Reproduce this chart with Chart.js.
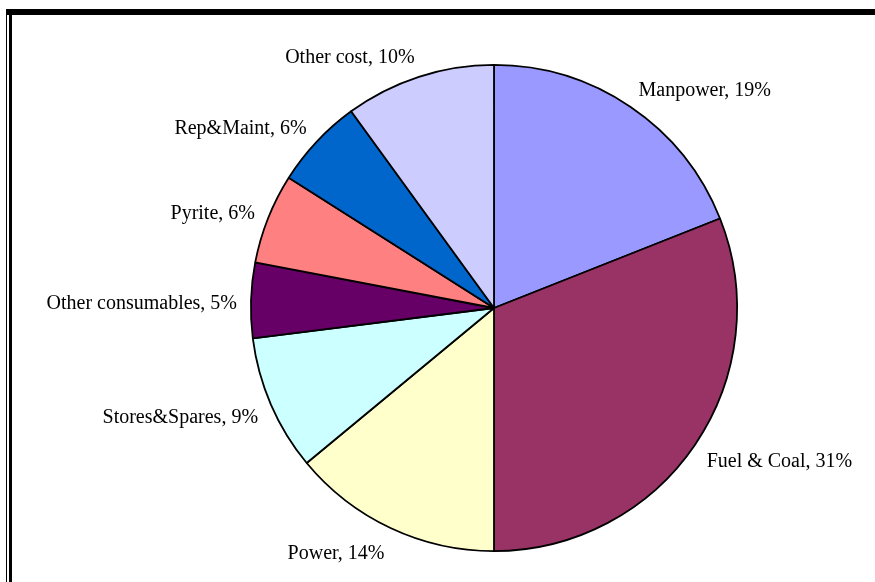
<!DOCTYPE html>
<html>
<head>
<meta charset="utf-8">
<script src="https://cdn.jsdelivr.net/npm/chart.js@4"></script>
<style>
  html, body { margin: 0; padding: 0; background: #fff; }
  #wrap { position: relative; width: 875px; height: 582px; overflow: hidden; }
  #c { position: absolute; left: 0; top: 0; }
  .bar { position: absolute; background: #000; }
</style>
</head>
<body>
<div id="wrap">
  <canvas id="c" width="875" height="582"></canvas>
  <div class="bar" style="left:6px;top:9px;width:869px;height:6px;"></div>
  <div class="bar" style="left:6px;top:9px;width:1px;height:573px;"></div>
  <div class="bar" style="left:9px;top:9px;width:3px;height:573px;"></div>
</div>
<script>
const categories = ["Manpower", "Fuel & Coal", "Power", "Stores&Spares", "Other consumables", "Pyrite", "Rep&Maint", "Other cost"];
const shares = [19, 31, 14, 9, 5, 6, 6, 10];
const colors = ["#9999FF", "#993366", "#FFFFCC", "#CCFFFF", "#660066", "#FF8080", "#0066CC", "#CCCCFF"];

const labelPlugin = {
  id: 'outsideLabels',
  afterDatasetsDraw(chart) {
    const ctx = chart.ctx;
    const meta = chart.getDatasetMeta(0);
    ctx.save();
    ctx.font = '20px "Liberation Serif", "Times New Roman", serif';
    ctx.fillStyle = '#000';
    const h = 20;
    meta.data.forEach((arc, i) => {
      const p = arc.getProps(['x', 'y', 'startAngle', 'endAngle', 'outerRadius'], true);
      const mid = (p.startAngle + p.endAngle) / 2;
      const r = p.outerRadius + 14;
      const ax = p.x + Math.cos(mid) * r;
      const ay = p.y + Math.sin(mid) * r;
      const text = categories[i] + ', ' + shares[i] + '%';
      const s = Math.cos(mid);
      const v = Math.sin(mid);
      ctx.textAlign = s >= 0 ? 'left' : 'right';
      ctx.textBaseline = 'middle';
      const cy = ay + v * h / 2 + 4;
      ctx.fillText(text, ax, cy);
    });
    ctx.restore();
  }
};

new Chart(document.getElementById('c'), {
  type: 'pie',
  data: {
    labels: categories,
    datasets: [{
      data: shares,
      backgroundColor: colors,
      borderColor: '#000',
      borderWidth: 1.8
    }]
  },
  options: {
    responsive: false,
    animation: false,
    layout: { padding: { top: 64, bottom: 30, left: 113, right: 0 } },
    plugins: { legend: { display: false }, tooltip: { enabled: false } }
  },
  plugins: [labelPlugin]
});
</script>
</body>
</html>
